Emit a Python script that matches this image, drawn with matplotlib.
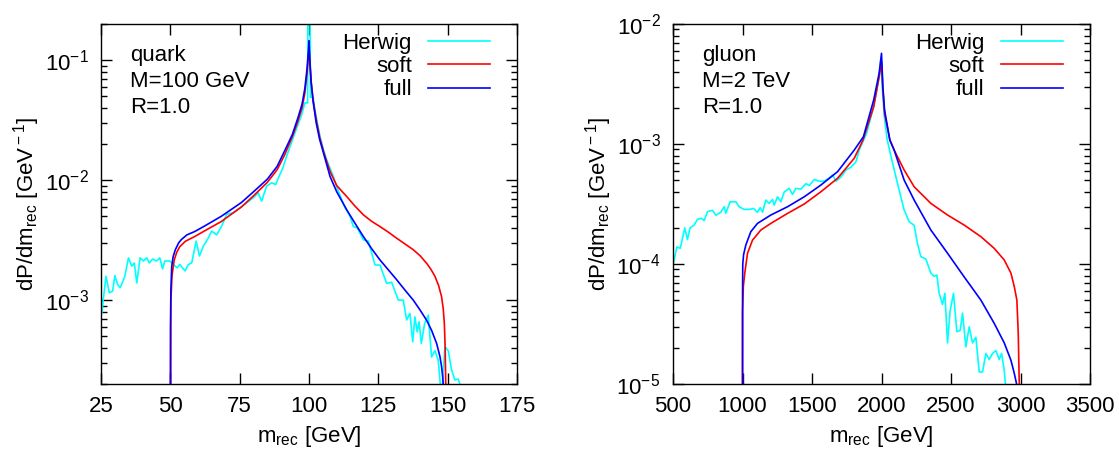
import matplotlib
matplotlib.use("Agg")
import matplotlib.pyplot as plt
from matplotlib.ticker import LogLocator, NullFormatter, MultipleLocator

plt.rcParams['font.family'] = ['Liberation Sans', 'DejaVu Sans']
plt.rcParams['mathtext.fontset'] = 'custom'
plt.rcParams['mathtext.rm'] = 'Liberation Sans'
plt.rcParams['mathtext.it'] = 'Liberation Sans:italic'
plt.rcParams['font.size'] = 16

# ---- quark, M = 100 GeV ----
q_herwig_x = [25.3, 25.8, 26.8, 28.0, 29.2, 30.0, 31.0, 31.9, 33.0, 33.6, 34.9, 36.1, 37.0, 37.9,
              39.1, 40.3, 41.5, 42.4, 43.6, 45.0, 46.2, 47.2, 48.0, 49.8, 51.0, 52.5, 53.4, 55.3,
              56.5, 57.7, 59.3, 60.5, 61.9, 63.7, 64.9, 66.7, 68.5, 70.3, 72.7, 75.1, 77.5, 79.9,
              81.7, 82.9, 84.7, 86.5, 88.0, 89.0, 90.5, 92.0, 93.5, 95.0, 96.5, 97.5, 98.5, 99.5,
              99.6, 100.4, 100.5, 101.5, 102.0, 103.0, 104.0, 105.2, 106.5, 108.8, 110.0, 111.8,
              113.0, 114.8, 116.0, 117.4, 119.6, 121.4, 123.8, 125.6, 128.0, 129.8, 132.2, 134.0,
              135.2, 136.4, 137.4, 138.2, 139.0, 139.7, 140.5, 141.7, 143.0, 144.2, 145.4, 146.6,
              147.8, 149.0, 150.2, 151.4, 152.6, 153.8, 155.0, 156.0]
q_herwig_y = [7.8e-4, 1.0e-3, 1.58e-3, 1.15e-3, 1.19e-3, 1.6e-3, 1.35e-3, 1.27e-3, 1.45e-3, 1.58e-3,
              2.25e-3, 1.92e-3, 2.04e-3, 1.39e-3, 2.25e-3, 2.12e-3, 2.25e-3, 2.04e-3, 2.2e-3, 2.12e-3,
              2.25e-3, 1.82e-3, 2.12e-3, 2.12e-3, 1.98e-3, 1.86e-3, 1.98e-3, 1.75e-3, 1.98e-3, 2.04e-3,
              3.1e-3, 2.33e-3, 2.82e-3, 3.3e-3, 3.76e-3, 3.5e-3, 4.14e-3, 5.18e-3, 5.35e-3, 5.88e-3,
              6.47e-3, 7.13e-3, 7.85e-3, 6.68e-3, 8.9e-3, 9.5e-3, 9.2e-3, 1.05e-2, 1.25e-2, 1.6e-2,
              2.0e-2, 2.5e-2, 3.1e-2, 3.6e-2, 4.4e-2, 4.4e-2, 0.3, 0.3, 0.049, 0.049, 0.04, 0.03,
              0.023, 0.018, 0.0145, 0.0107, 0.0088, 6.85e-3, 5.9e-3, 5.0e-3, 4.1e-3, 4.0e-3, 3.18e-3,
              3.1e-3, 1.96e-3, 1.96e-3, 1.38e-3, 1.41e-3, 1.0e-3, 1.0e-3, 6.83e-4, 7.76e-4, 4.49e-4,
              7.25e-4, 5.44e-4, 6.6e-4, 4.35e-4, 6.4e-4, 7.5e-4, 3.36e-4, 3.8e-4, 3.16e-4, 1.5e-4,
              4.08e-4, 3.8e-4, 2.63e-4, 2.16e-4, 2.2e-4, 1.8e-4, 1.5e-4]

q_soft_x = [50.0, 50.2, 50.6, 51.4, 52.3, 53.4, 55.5, 58.8, 63.0, 68.4, 72.0, 75.6, 80.0, 85.0,
            88.5, 91.2, 94.0, 96.0, 97.5, 98.5, 99.3, 99.8, 100.0, 100.3, 100.8, 101.5, 102.6,
            103.9, 105.5, 107.6, 110.0, 113.6, 116.5, 119.6, 122.5, 125.6, 128.5, 131.6, 134.5,
            137.6, 140.0, 142.4, 144.0, 145.4, 146.7, 147.8, 148.4, 148.8, 149.1, 149.3, 149.4]
q_soft_y = [1e-5, 1.0e-3, 1.6e-3, 2.16e-3, 2.5e-3, 2.79e-3, 3.1e-3, 3.39e-3, 3.85e-3, 4.52e-3,
            5.2e-3, 5.96e-3, 7.4e-3, 9.6e-3, 1.22e-2, 1.62e-2, 2.3e-2, 3.1e-2, 4.0e-2, 5.3e-2,
            7.8e-2, 0.11, 0.13, 0.095, 0.065, 0.046, 0.032, 0.0225, 0.0165, 0.0118, 9.0e-3,
            7.3e-3, 6.1e-3, 5.14e-3, 4.55e-3, 4.1e-3, 3.7e-3, 3.28e-3, 2.95e-3, 2.63e-3, 2.35e-3,
            2.03e-3, 1.8e-3, 1.58e-3, 1.33e-3, 1.07e-3, 8.5e-4, 6.4e-4, 4.0e-4, 2.0e-4, 1e-5]

q_full_x = [50.0, 50.05, 50.2, 50.5, 51.0, 51.8, 53.0, 54.0, 56.0, 58.8, 62.0, 65.0, 68.4, 72.0,
            75.6, 80.0, 85.0, 88.5, 91.2, 94.0, 96.0, 97.5, 98.5, 99.3, 99.8, 100.0, 100.3, 100.8,
            101.5, 102.6, 103.8, 105.2, 107.6, 110.0, 113.6, 116.5, 119.6, 122.5, 125.6, 128.5,
            131.6, 134.5, 137.6, 140.0, 142.4, 144.2, 146.0, 147.2, 147.8, 148.2, 148.4, 148.5]
q_full_y = [1e-5, 6e-4, 1.2e-3, 1.9e-3, 2.3e-3, 2.63e-3, 3.0e-3, 3.2e-3, 3.5e-3, 3.73e-3, 4.1e-3,
            4.5e-3, 5.0e-3, 5.7e-3, 6.5e-3, 8.0e-3, 1.02e-2, 1.3e-2, 1.75e-2, 2.4e-2, 3.3e-2,
            4.3e-2, 5.8e-2, 8.5e-2, 0.12, 0.145, 0.1, 0.065, 0.045, 0.03, 0.022, 0.0169, 0.0107,
            8.0e-3, 5.66e-3, 4.4e-3, 3.39e-3, 2.7e-3, 2.16e-3, 1.8e-3, 1.48e-3, 1.22e-3, 1.0e-3,
            8.3e-4, 6.8e-4, 5.6e-4, 4.37e-4, 3.4e-4, 2.8e-4, 2.3e-4, 2.0e-4, 1e-5]

# ---- gluon, M = 2 TeV ----
g_herwig_x = [500, 508, 528, 552, 585, 604, 623, 652, 676, 705, 724, 748, 784, 808, 844, 868, 880,
              911, 952, 976, 1012, 1048, 1079, 1108, 1127, 1144, 1168, 1192, 1216, 1228, 1252, 1276,
              1300, 1336, 1360, 1384, 1420, 1456, 1480, 1516, 1552, 1588, 1624, 1648, 1672, 1708,
              1744, 1780, 1816, 1840, 1893, 1944, 1983, 1995, 2005, 2020, 2040, 2067, 2103, 2139,
              2163, 2199, 2235, 2259, 2283, 2319, 2355, 2379, 2398, 2415, 2439, 2456, 2475, 2494,
              2518, 2542, 2566, 2583, 2607, 2631, 2655, 2679, 2703, 2727, 2751, 2775, 2799, 2823,
              2847, 2864, 2883, 2895, 2900]
g_herwig_y = [1.0e-4, 1.08e-4, 1.39e-4, 1.35e-4, 2.0e-4, 1.6e-4, 2.0e-4, 2.11e-4, 2.36e-4, 2.4e-4,
              2.3e-4, 2.73e-4, 2.8e-4, 2.55e-4, 2.7e-4, 3.0e-4, 2.65e-4, 3.3e-4, 3.3e-4, 3.0e-4,
              2.85e-4, 2.85e-4, 2.9e-4, 2.7e-4, 2.95e-4, 2.7e-4, 3.41e-4, 3.2e-4, 3.45e-4, 3.1e-4,
              3.63e-4, 3.3e-4, 3.98e-4, 4.27e-4, 3.8e-4, 4.27e-4, 4.2e-4, 4.68e-4, 4.5e-4, 5.06e-4,
              4.9e-4, 4.9e-4, 5.2e-4, 5.52e-4, 4.9e-4, 5.3e-4, 6.07e-4, 6.4e-4, 7.1e-4, 8.9e-4,
              1.23e-3, 2.05e-3, 3.6e-3, 5.0e-3, 3.0e-3, 1.7e-3, 1.1e-3, 8.0e-4, 5.36e-4, 3.63e-4,
              2.82e-4, 2.25e-4, 2.1e-4, 1.48e-4, 1.15e-4, 1.1e-4, 8.4e-5, 7.9e-5, 8.1e-5, 5.7e-5,
              4.6e-5, 5.7e-5, 2.2e-5, 4.1e-5, 5.7e-5, 2.73e-5, 2.8e-5, 3.9e-5, 2.04e-5, 3.0e-5,
              2.2e-5, 2.45e-5, 1.26e-5, 1.26e-5, 1.8e-5, 1.6e-5, 1.8e-5, 1.9e-5, 1.6e-5, 1.8e-5,
              1.3e-5, 9e-6, 5e-6]

g_soft_x = [1000, 1000.5, 1006, 1017, 1036, 1072, 1132, 1204, 1324, 1444, 1564, 1684, 1804, 1867,
            1944, 1983, 2000, 2010, 2022, 2060, 2091, 2163, 2235, 2355, 2475, 2595, 2715, 2811,
            2883, 2931, 2955, 2974, 2984, 2991, 2992]
g_soft_y = [1e-6, 4e-5, 6.5e-5, 8.5e-5, 1.23e-4, 1.58e-4, 1.92e-4, 2.18e-4, 2.64e-4, 3.16e-4,
            4.0e-4, 5.18e-4, 7.6e-4, 1.08e-3, 2.05e-3, 3.64e-3, 4.85e-3, 2.8e-3, 1.8e-3, 1.08e-3,
            8.9e-4, 6.07e-4, 4.4e-4, 3.2e-4, 2.56e-4, 2.11e-4, 1.69e-4, 1.35e-4, 1.08e-4, 8.4e-5,
            6.5e-5, 5.0e-5, 2.6e-5, 1e-5, 1e-6]

g_full_x = [1000, 1000.5, 1002, 1008, 1024, 1060, 1108, 1204, 1324, 1444, 1564, 1684, 1804, 1870,
            1944, 1983, 2000, 2010, 2022, 2060, 2091, 2163, 2235, 2355, 2475, 2595, 2715, 2811,
            2883, 2931, 2955, 2972, 2975]
g_full_y = [1e-6, 6e-5, 1.0e-4, 1.2e-4, 1.44e-4, 1.86e-4, 2.18e-4, 2.56e-4, 3.0e-4, 3.63e-4,
            4.55e-4, 5.88e-4, 8.9e-4, 1.15e-3, 2.33e-3, 3.89e-3, 5.7e-3, 3.0e-3, 1.92e-3, 1.08e-3,
            8.9e-4, 5.0e-4, 3.41e-4, 1.92e-4, 1.23e-4, 7.8e-5, 5.0e-5, 3.2e-5, 2.2e-5, 1.58e-5,
            1.23e-5, 1e-5, 1e-6]

panels = [
    dict(herwig=(q_herwig_x, q_herwig_y), soft=(q_soft_x, q_soft_y), full=(q_full_x, q_full_y),
         xlim=(25, 175), xstep=25, ylim=(2e-4, 0.2), note="quark\nM=100 GeV\nR=1.0",
         rect=[101 / 1119, 66 / 450, 416 / 1119, 360 / 450]),
    dict(herwig=(g_herwig_x, g_herwig_y), soft=(g_soft_x, g_soft_y), full=(g_full_x, g_full_y),
         xlim=(500, 3500), xstep=500, ylim=(1e-5, 1e-2), note="gluon\nM=2 TeV\nR=1.0",
         rect=[673 / 1119, 66 / 450, 417 / 1119, 360 / 450]),
]

fig = plt.figure(figsize=(11.19, 4.5), dpi=100)

for p in panels:
    ax = fig.add_axes(p['rect'])
    ax.plot(*p['herwig'], color='#00ffff', lw=1.2, label='Herwig')
    ax.plot(*p['soft'], color='#ff0000', lw=1.2, label='soft')
    ax.plot(*p['full'], color='#0000ff', lw=1.2, label='full')
    ax.set_yscale('log')
    ax.set_xlim(*p['xlim'])
    ax.set_ylim(*p['ylim'])
    ax.xaxis.set_major_locator(MultipleLocator(p['xstep']))
    ax.yaxis.set_major_locator(LogLocator(base=10, numticks=10))
    ax.yaxis.set_minor_locator(LogLocator(base=10, subs=range(2, 10), numticks=20))
    ax.yaxis.set_minor_formatter(NullFormatter())
    ax.tick_params(which='both', direction='in', top=True, right=True, width=1.0)
    ax.tick_params(which='major', length=8, pad=9)
    ax.tick_params(which='minor', length=4)
    for s in ax.spines.values():
        s.set_linewidth(1.0)
    ax.set_xlabel(r'm$_{\rm rec}$ [GeV]', labelpad=5)
    ax.set_ylabel(r'dP/dm$_{\rm rec}$ [GeV$^{\rm -1}$]', labelpad=2)
    ax.text(29 / 416, 1 - 21 / 360, p['note'], transform=ax.transAxes, ha='left', va='top',
            linespacing=1.3)
    ax.legend(loc='upper right', bbox_to_anchor=(1 - 27 / 416, 1 - 9 / 360), frameon=False,
              markerfirst=False, handlelength=2.8, handletextpad=0.72, labelspacing=0.1,
              borderpad=0, borderaxespad=0)

fig.savefig('out.png', dpi=100)
